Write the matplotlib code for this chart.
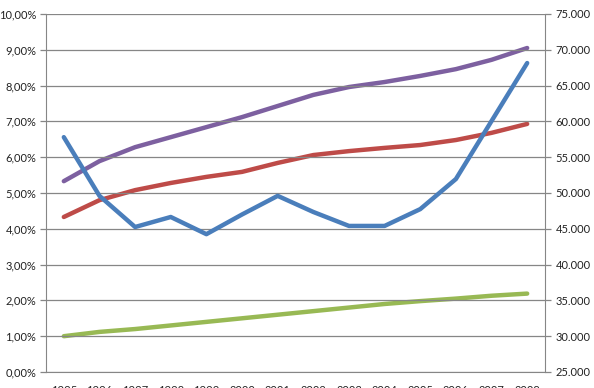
import numpy as np
import matplotlib
matplotlib.use("Agg")
import matplotlib.pyplot as plt
from matplotlib.ticker import FuncFormatter

plt.rcParams['font.family'] = ['Lato', 'DejaVu Sans']

years = list(range(1995, 2009))
# left axis, percent
blue = [6.56, 4.92, 4.05, 4.33, 3.85, 4.40, 4.92, 4.47, 4.08, 4.08, 4.55, 5.39, 7.01, 8.63]
# right axis, absolute values
red = [46650, 49000, 50400, 51400, 52250, 52950, 54200, 55300, 55850, 56300, 56700, 57400, 58400, 59650]
purple = [51650, 54450, 56400, 57800, 59200, 60600, 62150, 63700, 64800, 65500, 66350, 67300, 68600, 70250]
green = [30000, 30600, 31000, 31500, 32000, 32500, 33000, 33500, 34000, 34500, 34900, 35250, 35650, 35950]

grid_c = "#868686"

fig = plt.figure(figsize=(5.94, 3.88), dpi=100)
ax = fig.add_axes([46/594, 16/388, 499/594, 358/388])
ax2 = ax.twinx()

x = np.arange(len(years))
ax.plot(x, blue, color="#4A7EBB", lw=3.2, solid_capstyle="round", zorder=5)
ax2.plot(x, red, color="#BE4B48", lw=3.2, solid_capstyle="round")
ax2.plot(x, purple, color="#7D60A0", lw=3.2, solid_capstyle="round")
ax2.plot(x, green, color="#98B954", lw=3.2, solid_capstyle="round")
ax.set_zorder(ax2.get_zorder() + 1)
ax.patch.set_visible(False)

ax.set_xlim(-0.5, len(years) - 0.5)
ax.set_ylim(0, 10)
ax2.set_ylim(25000, 75000)
ax.set_yticks(np.arange(0, 11, 1))
ax2.set_yticks(np.arange(25000, 75001, 5000))
ax.yaxis.set_major_formatter(FuncFormatter(lambda v, p: "{:.2f}%".format(v).replace(".", ",")))
ax2.yaxis.set_major_formatter(FuncFormatter(lambda v, p: "{:,.0f}".format(v).replace(",", ".")))
ax.set_xticks(x)
ax.set_xticklabels([str(y) for y in years])

ax.grid(axis="y", color=grid_c, lw=0.9)
ax.set_axisbelow(True)
for a in (ax, ax2):
    for s in a.spines.values():
        s.set_visible(False)
    a.tick_params(labelsize=8, colors="#222222", length=4, color=grid_c, width=0.9)
ax.spines["left"].set_visible(True)
ax.spines["left"].set_color(grid_c)
ax.spines["bottom"].set_visible(True)
ax.spines["bottom"].set_color(grid_c)
ax2.spines["right"].set_visible(True)
ax2.spines["right"].set_color(grid_c)
ax.tick_params(axis="x", length=0, pad=9)
ax.tick_params(axis="y", pad=3)

fig.savefig("out.png", dpi=100)
